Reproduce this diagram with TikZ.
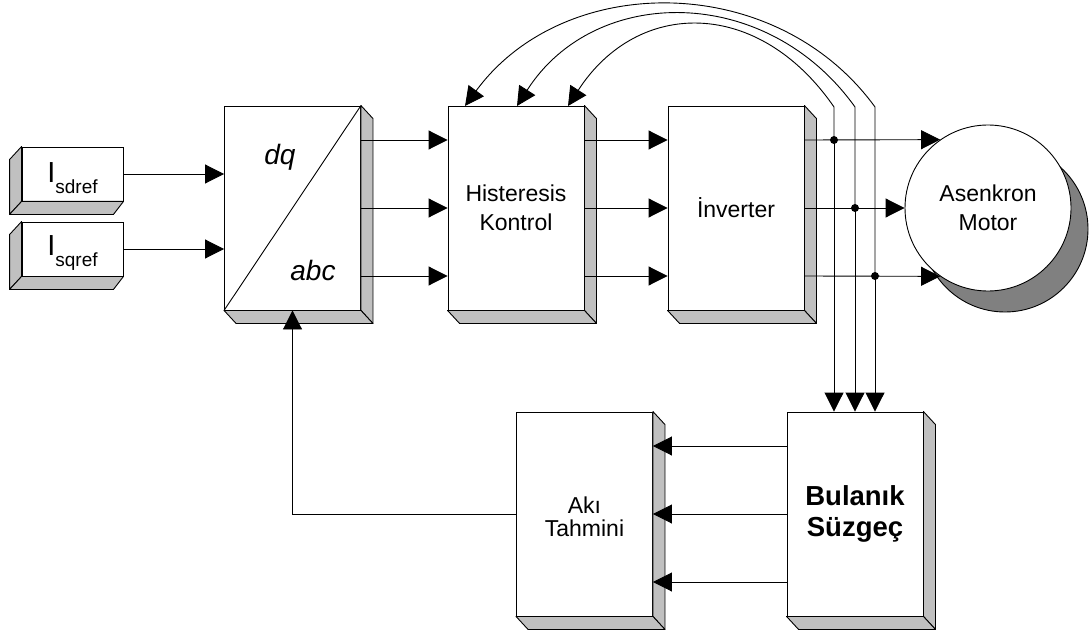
\documentclass[tikz,border=0pt]{standalone}
\usepackage{fontspec}
\setmainfont{Liberation Sans}
\usetikzlibrary{arrows.meta}
\definecolor{shadegray}{RGB}{192,192,192}
\definecolor{motorgray}{RGB}{128,128,128}
% right/bottom bevel of a block
\newcommand\sideRB[1]{%
  \filldraw[side] (#1.north east) -- ([shift={(12,13)}]#1.north east) -- ([shift={(12,13)}]#1.south east) -- (#1.south east) -- cycle;
  \filldraw[side] (#1.south west) -- ([shift={(12,13)}]#1.south west) -- ([shift={(12,13)}]#1.south east) -- (#1.south east) -- cycle;}
% left/bottom bevel of a reference block
\newcommand\sideLB[1]{%
  \filldraw[side] (#1.north west) -- ([shift={(-12,13)}]#1.north west) -- ([shift={(-12,13)}]#1.south west) -- (#1.south west) -- cycle;
  \filldraw[side] (#1.south west) -- ([shift={(-12,13)}]#1.south west) -- ([shift={(-10,13)}]#1.south east) -- (#1.south east) -- cycle;}
\begin{document}
\begin{tikzpicture}[x=1pt,y=-1pt,
  line width=0.9pt,
  arr/.style={-{Triangle[length=19pt,width=19pt]}},
  blk/.style={draw,fill=white,rectangle,inner sep=0pt,minimum width=136pt,minimum height=204pt,
    font=\fontsize{23}{29}\selectfont,align=center},
  refbox/.style={draw,fill=white,rectangle,inner sep=0pt,minimum width=101pt,minimum height=54pt},
  side/.style={draw,fill=shadegray,line join=round},
  dot/.style={circle,fill=black,inner sep=0pt,minimum size=8pt}]
\useasboundingbox (0,0) rectangle (1089,631);

% reference current blocks
\node[refbox] (isd) at (72.5,174)
  {\rule{0pt}{28pt}\fontsize{29}{30}\selectfont I\raisebox{-10.5pt}{\fontsize{19}{20}\selectfont sdref}};
\node[refbox] (isq) at (72.5,249)
  {\rule{0pt}{28pt}\fontsize{29}{30}\selectfont I\raisebox{-10.5pt}{\fontsize{19}{20}\selectfont sqref}};
\sideLB{isd}
\sideLB{isq}

% main blocks
\node[blk] (dq) at (292.5,208) {};
\node[blk] (hist) at (516,208) {Histeresis\\Kontrol};
\node[blk] (inv) at (736,208) {İnverter};
\node[blk,font=\fontsize{23}{23}\selectfont] (aki) at (584.5,514) {\rule{0pt}{22pt}Akı\\Tahmini};
\node[blk,font=\fontsize{27.5}{31}\selectfont\bfseries] (bul) at (855,514) {Bulanık\\Süzgeç};
\foreach \b in {dq,hist,inv,aki,bul} {\sideRB{\b}}

% dq / abc transformation
\draw (dq.south west) -- (dq.north east);
\node[font=\fontsize{28}{30}\selectfont\itshape,anchor=base] (dqlbl) at (280,165) {dq};
\node[font=\fontsize{28}{30}\selectfont\itshape,anchor=base] (abclbl) at (313,280) {abc};

% induction motor
\node[circle,draw,fill=motorgray,inner sep=0pt,minimum size=166pt] (motorsh) at (1005,229) {};
\node[circle,draw,fill=white,inner sep=0pt,minimum size=166pt,
  font=\fontsize{23}{28.5}\selectfont,align=center] (motor) at (988,208) {Asenkron\\Motor};

% reference inputs
\draw[arr] (isd.east) -- (isd.east -| dq.west);
\draw[arr] (isq.east) -- (isq.east -| dq.west);

% three-phase paths
\foreach \d in {-68,0,68} {
  \draw[arr] ([shift={(0,\d)}]dq.east) -- ([shift={(0,\d)}]hist.west);
  \draw[arr] ([shift={(0,\d)}]hist.east) -- ([shift={(0,\d)}]inv.west);
  \draw[arr] ([shift={(0,\d)}]bul.west) -- ([shift={(0,\d)}]aki.east);
}
\draw[arr] ([shift={(0,-68)}]inv.east) -- (motor.125);
\draw[arr] (inv.east) -- (motor.west);
\draw[arr] ([shift={(0,68)}]inv.east) -- (motor.235);

% current measurement taps
\coordinate (j1) at (834,140);
\coordinate (j2) at (855,208);
\coordinate (j3) at (875,276);
\coordinate (t1) at (834,107);
\coordinate (t2) at (855,107);
\coordinate (t3) at (875,107);
\coordinate (h1) at (568,106);
\coordinate (h2) at (517,106);
\coordinate (h3) at (465,106);

\draw[arr] (j1) -- (t1) .. controls (759,-2) and (638,-2) .. (h1);
\draw[arr] (j2) -- (t2) .. controls (767,-16) and (595,-16) .. (h2);
\draw[arr] (j3) -- (t3) .. controls (776,-29) and (564,-29) .. (h3);
\foreach \j in {j1,j2,j3} {
  \draw[arr] (\j) -- (\j |- bul.north);
  \node[dot] (\j dot) at (\j) {};
}

% flux feedback
\draw[arr] (aki.west) -| (dq.south);
\end{tikzpicture}
\end{document}
